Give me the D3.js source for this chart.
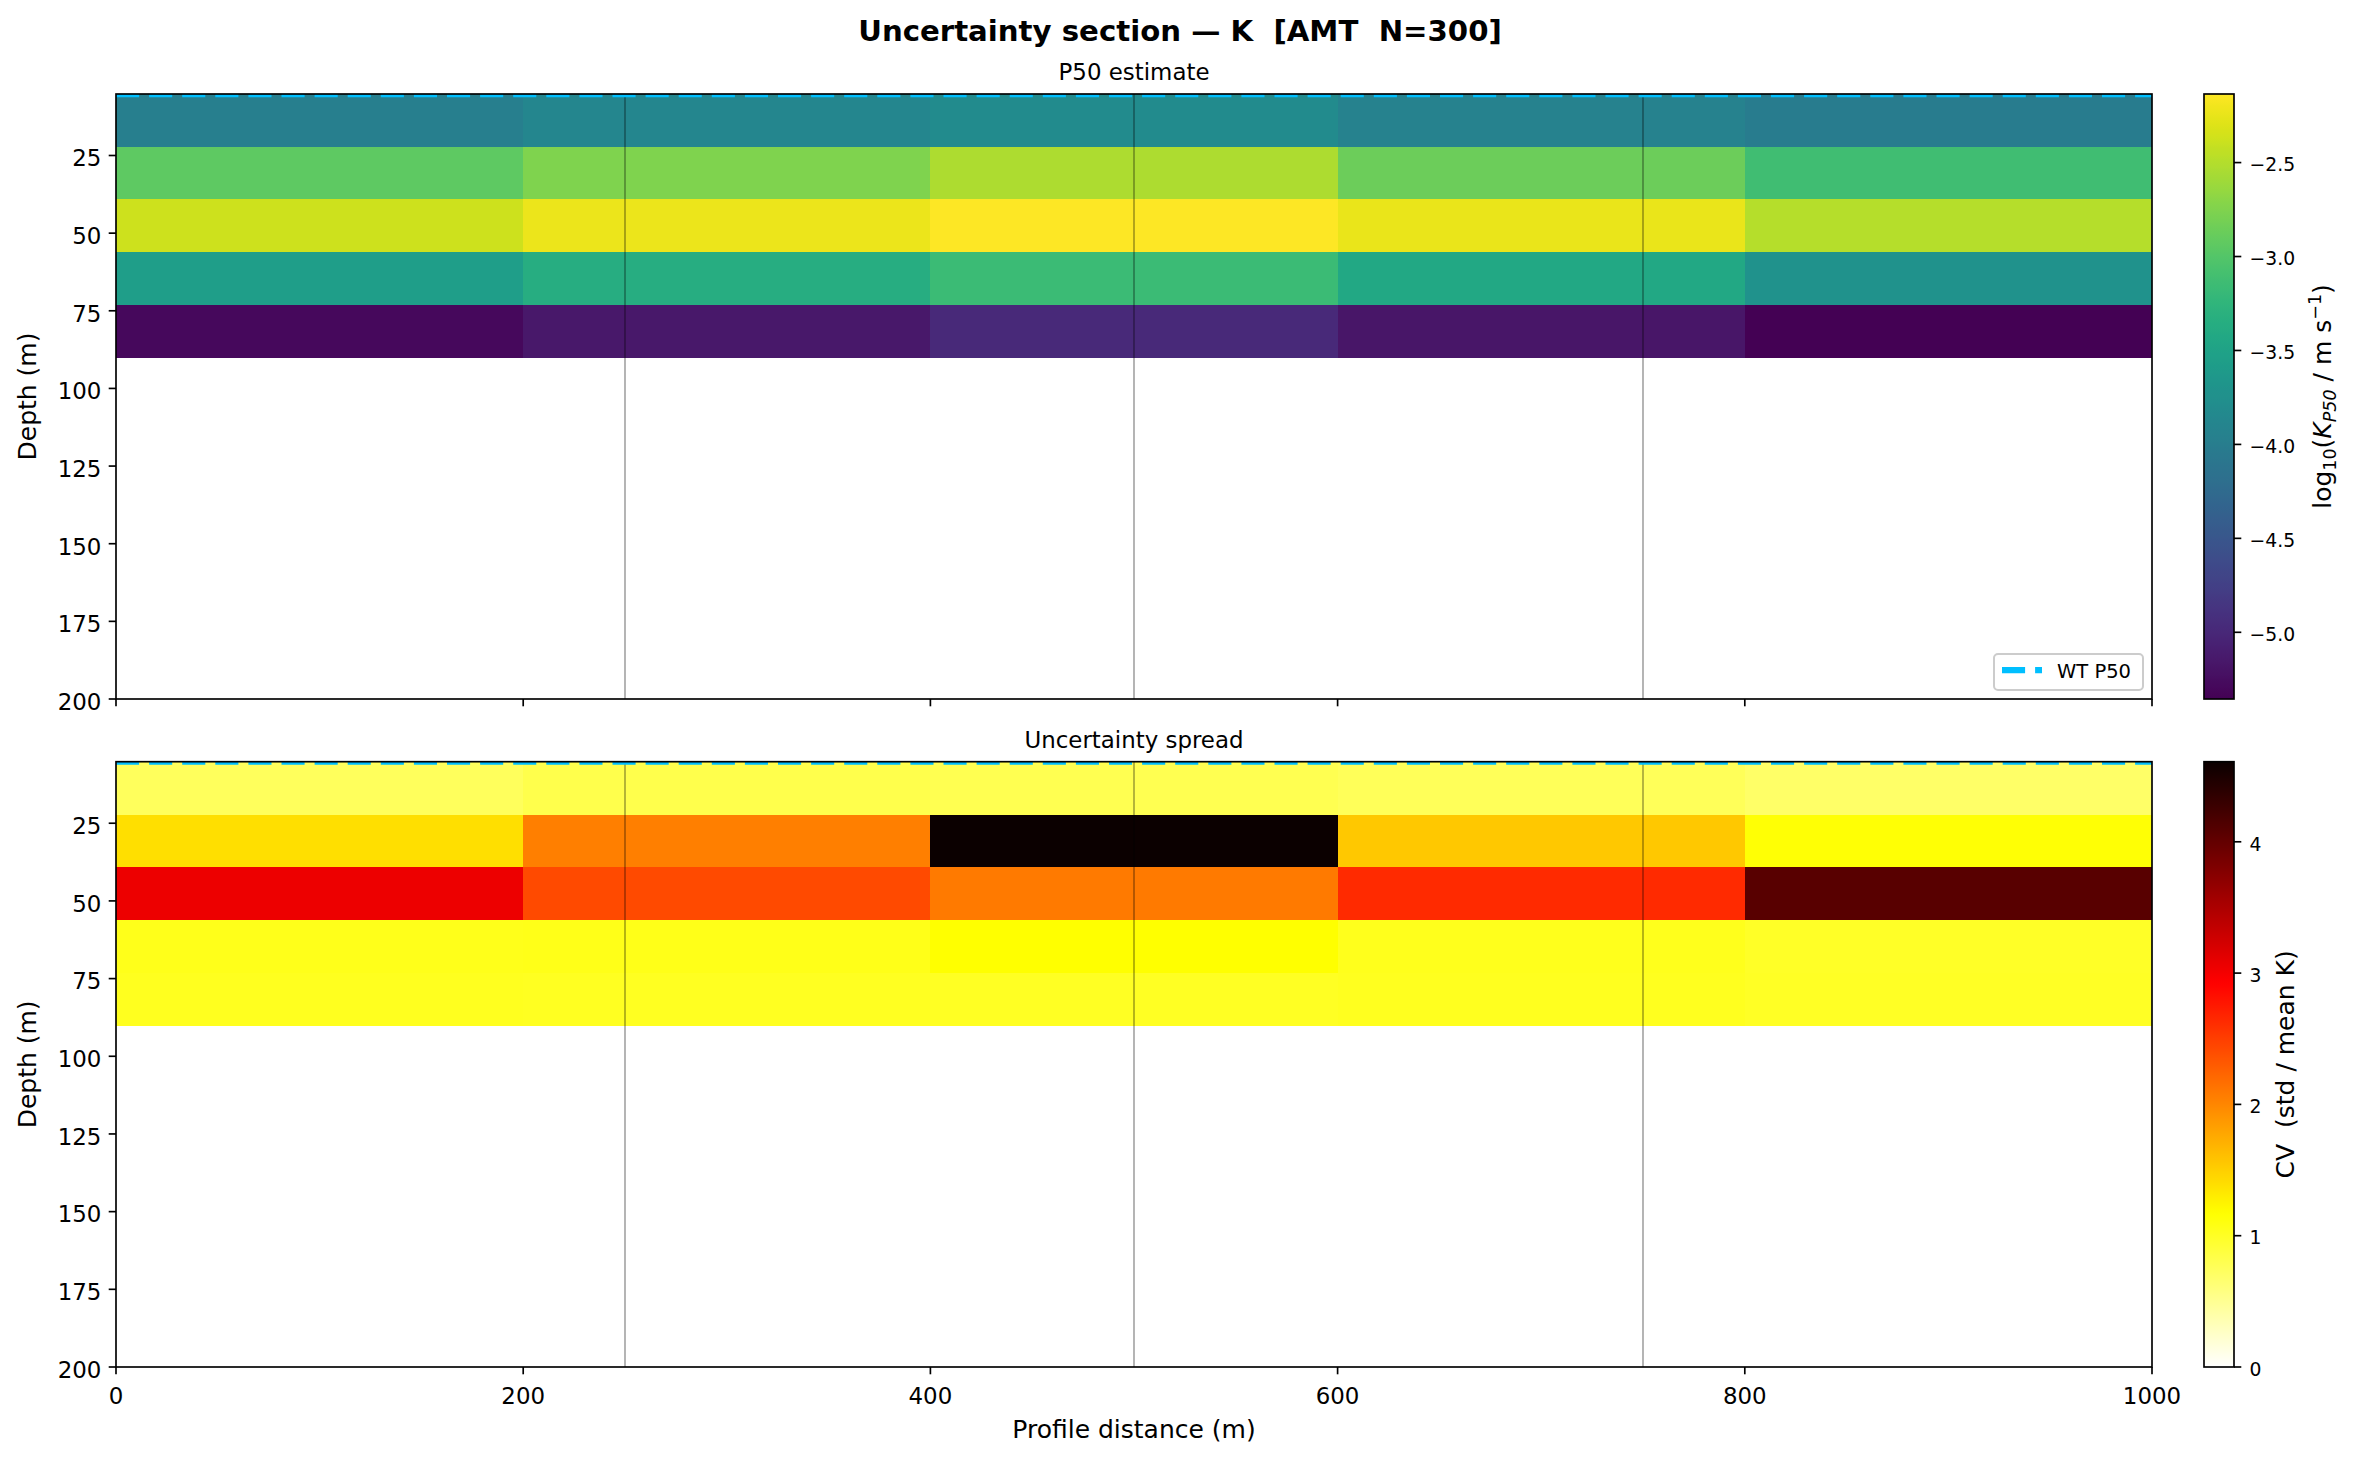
<!DOCTYPE html>
<html>
<head>
<meta charset="utf-8">
<script src="https://cdn.jsdelivr.net/npm/d3@7"></script>
<style>
  html, body { margin: 0; padding: 0; background: #fff; }
  svg { display: block; font-family: "DejaVu Sans", sans-serif; }
  .pre { white-space: pre; }
</style>
</head>
<body>
<svg id="chart" width="2360" height="1460"></svg>
<script>
// ---------------- data ----------------
const xEdges = [0, 200, 400, 600, 800, 1000];
const depthEdges = [5.2, 22.2, 39.1, 56.1, 73.1, 90.1];
// log10(K P50) per layer (rows) and column
const logK = [
  [-3.974, -3.880, -3.819, -3.946, -4.012],
  [-2.940, -2.763, -2.534, -2.860, -3.117],
  [-2.380, -2.225, -2.135, -2.248, -2.496],
  [-3.568, -3.355, -3.159, -3.429, -3.722],
  [-5.291, -5.146, -4.981, -5.175, -5.355]
];
// coefficient of variation per layer and column
const cv = [
  [0.75, 0.82, 0.80, 0.76, 0.70],
  [1.39, 2.05, 4.61, 1.55, 1.15],
  [3.05, 2.42, 2.09, 2.64, 4.08],
  [1.05, 1.06, 1.17, 1.04, 0.99],
  [1.03, 1.02, 1.01, 1.03, 1.00]
];
const stations = [250, 500, 750];
const wtX = [0, 1000];
const wtDepth = [5.2, 5.2];
const xTicks = [0, 200, 400, 600, 800, 1000];
const depthTicks = [25, 50, 75, 100, 125, 150, 175, 200];
const logKTicks = [-2.5, -3.0, -3.5, -4.0, -4.5, -5.0];
const cvTicks = [0, 1, 2, 3, 4];
const depthMax = 200;

// ---------------- layout ----------------
const svg = d3.select("#chart");
const L = 116, R = 2152;
const panels = [
  { top: 94, bottom: 699, title: "P50 estimate", data: logK, cmap: "viridis" },
  { top: 761.7, bottom: 1367, title: "Uncertainty spread", data: cv, cmap: "hot_r" }
];
const cbL = 2204, cbR = 2234;
const TICK = 7.3, PAD = 7.3, SW = 1.67;
const FT = 22.9, FL = 25, FCB = 18.75;

function hot(t) {
  t = Math.max(0, Math.min(1, t));
  const r = t < 0.365079 ? 0.0416 + (1 - 0.0416) * t / 0.365079 : 1;
  const g = t < 0.365079 ? 0 : (t < 0.746032 ? (t - 0.365079) / (0.746032 - 0.365079) : 1);
  const b = t < 0.746032 ? 0 : (t - 0.746032) / (1 - 0.746032);
  return d3.rgb(r * 255, g * 255, b * 255).formatHex();
}
const hotR = t => hot(1 - t);

const x = d3.scaleLinear().domain([xEdges[0], xEdges[xEdges.length - 1]]).range([L, R]);

// suptitle
svg.append("text").attr("class", "pre").attr("x", 1180).attr("y", 40.7).attr("text-anchor", "middle")
  .attr("font-size", 29.2).attr("font-weight", "bold")
  .text("Uncertainty section — K  [AMT  N=300]");

panels.forEach((p, pi) => {
  const y = d3.scaleLinear().domain([depthEdges[0], depthMax]).range([p.top, p.bottom]);
  const flat = p.data.flat();
  const dom = pi === 0 ? d3.extent(flat) : [0, d3.max(flat)];
  const norm = d3.scaleLinear().domain(dom).range([0, 1]).clamp(true);
  const interp = p.cmap === "viridis" ? d3.interpolateViridis : hotR;
  const color = v => interp(norm(v));

  const clipId = "clip" + pi;
  svg.append("clipPath").attr("id", clipId).append("rect")
    .attr("x", L).attr("y", p.top).attr("width", R - L).attr("height", p.bottom - p.top);

  const g = svg.append("g");
  const cells = [];
  p.data.forEach((row, i) => row.forEach((v, j) => cells.push({ i, j, v })));
  g.append("g").attr("clip-path", `url(#${clipId})`).selectAll("rect").data(cells).join("rect")
    .attr("x", d => x(xEdges[d.j]))
    .attr("y", d => y(depthEdges[d.i]))
    .attr("width", d => x(xEdges[d.j + 1]) - x(xEdges[d.j]) + 0.5)
    .attr("height", d => y(depthEdges[d.i + 1]) - y(depthEdges[d.i]) + 0.5)
    .attr("fill", d => color(d.v))
    .attr("shape-rendering", "crispEdges");

  // station lines
  g.append("g").selectAll("line").data(stations).join("line")
    .attr("x1", d => x(d)).attr("x2", d => x(d))
    .attr("y1", p.top).attr("y2", p.bottom)
    .attr("stroke", "#000").attr("stroke-opacity", 0.45).attr("stroke-width", 1.3);

  // water table
  const wt = wtX.map((xx, k) => [xx, wtDepth[k]]);
  g.append("path").attr("clip-path", `url(#${clipId})`)
    .attr("d", d3.line().x(d => x(d[0])).y(d => y(d[1]))(wt))
    .attr("fill", "none").attr("stroke", "#00bfff").attr("stroke-width", 6.25)
    .attr("stroke-dasharray", "23.1,10");

  // spines
  g.append("rect").attr("x", L).attr("y", p.top).attr("width", R - L).attr("height", p.bottom - p.top)
    .attr("fill", "none").attr("stroke", "#000").attr("stroke-width", SW);

  // y axis ticks
  const yt = g.append("g");
  depthTicks.forEach(t => {
    yt.append("line").attr("x1", L - TICK).attr("x2", L).attr("y1", y(t)).attr("y2", y(t))
      .attr("stroke", "#000").attr("stroke-width", SW);
    yt.append("text").attr("x", L - TICK - PAD).attr("y", y(t) + 10.8)
      .attr("text-anchor", "end").attr("font-size", FT).text(t);
  });
  // x ticks
  const xt = g.append("g");
  xTicks.forEach(t => {
    xt.append("line").attr("x1", x(t)).attr("x2", x(t)).attr("y1", p.bottom).attr("y2", p.bottom + TICK)
      .attr("stroke", "#000").attr("stroke-width", SW);
    if (pi === 1) {
      xt.append("text").attr("x", x(t)).attr("y", 1404).attr("text-anchor", "middle")
        .attr("font-size", FT).text(t);
    }
  });

  // titles / labels
  g.append("text").attr("x", (L + R) / 2).attr("y", p.top - 14).attr("text-anchor", "middle")
    .attr("font-size", FT).text(p.title);
  g.append("text").attr("transform", `translate(36,${(p.top + p.bottom) / 2}) rotate(-90)`)
    .attr("text-anchor", "middle").attr("font-size", FL).text("Depth (m)");

  // colorbar
  const gradId = "grad" + pi;
  const grad = svg.append("defs").append("linearGradient").attr("id", gradId)
    .attr("x1", 0).attr("y1", 1).attr("x2", 0).attr("y2", 0);
  d3.range(0, 101).forEach(k => {
    grad.append("stop").attr("offset", k / 100).attr("stop-color", interp(k / 100));
  });
  const cb = svg.append("g");
  cb.append("rect").attr("x", cbL).attr("y", p.top).attr("width", cbR - cbL).attr("height", p.bottom - p.top)
    .attr("fill", `url(#${gradId})`);
  cb.append("rect").attr("x", cbL).attr("y", p.top).attr("width", cbR - cbL).attr("height", p.bottom - p.top)
    .attr("fill", "none").attr("stroke", "#000").attr("stroke-width", SW);
  const cy = d3.scaleLinear().domain(dom).range([p.bottom, p.top]);
  const ticks = pi === 0 ? logKTicks : cvTicks;
  const fmt = pi === 0 ? d3.format(".1f") : d3.format("d");
  ticks.forEach(t => {
    cb.append("line").attr("x1", cbR).attr("x2", cbR + TICK).attr("y1", cy(t)).attr("y2", cy(t))
      .attr("stroke", "#000").attr("stroke-width", SW);
    cb.append("text").attr("x", cbR + TICK + PAD + 1).attr("y", cy(t) + 8.8)
      .attr("font-size", FCB).text(fmt(t));
  });

  if (pi === 0) {
    const lab = cb.append("text").attr("class", "pre")
      .attr("transform", `translate(2331,${(p.top + p.bottom) / 2}) rotate(-90)`)
      .attr("text-anchor", "middle").attr("font-size", FL);
    lab.append("tspan").text("log");
    lab.append("tspan").attr("font-size", 17.5).attr("dy", 5).text("10");
    lab.append("tspan").attr("dy", -5).text("(");
    lab.append("tspan").attr("font-style", "italic").text("K");
    lab.append("tspan").attr("font-style", "italic").attr("font-size", 17.5).attr("dy", 5).text("P50");
    lab.append("tspan").attr("dy", -5).text(" / m s");
    lab.append("tspan").attr("font-size", 17.5).attr("dy", -10).text("−1");
    lab.append("tspan").attr("dy", 10).text(")");
  } else {
    cb.append("text").attr("class", "pre")
      .attr("transform", `translate(2294,${(p.top + p.bottom) / 2}) rotate(-90)`)
      .attr("text-anchor", "middle").attr("font-size", FL)
      .text("CV  (std / mean K)");
  }

  // legend (top only)
  if (pi === 0) {
    const lg = svg.append("g");
    lg.append("rect").attr("x", 1994).attr("y", 654).attr("width", 149).attr("height", 36)
      .attr("rx", 4).attr("fill", "#fff").attr("fill-opacity", 0.8)
      .attr("stroke", "#cccccc").attr("stroke-width", 2);
    lg.append("line").attr("x1", 2002).attr("x2", 2042).attr("y1", 670).attr("y2", 670)
      .attr("stroke", "#00bfff").attr("stroke-width", 6.25).attr("stroke-dasharray", "23.1,10");
    lg.append("text").attr("x", 2057).attr("y", 677.5).attr("font-size", 19.5).text("WT P50");
  }
});

// x label
svg.append("text").attr("x", (L + R) / 2).attr("y", 1438).attr("text-anchor", "middle")
  .attr("font-size", FL).text("Profile distance (m)");
</script>
</body>
</html>
